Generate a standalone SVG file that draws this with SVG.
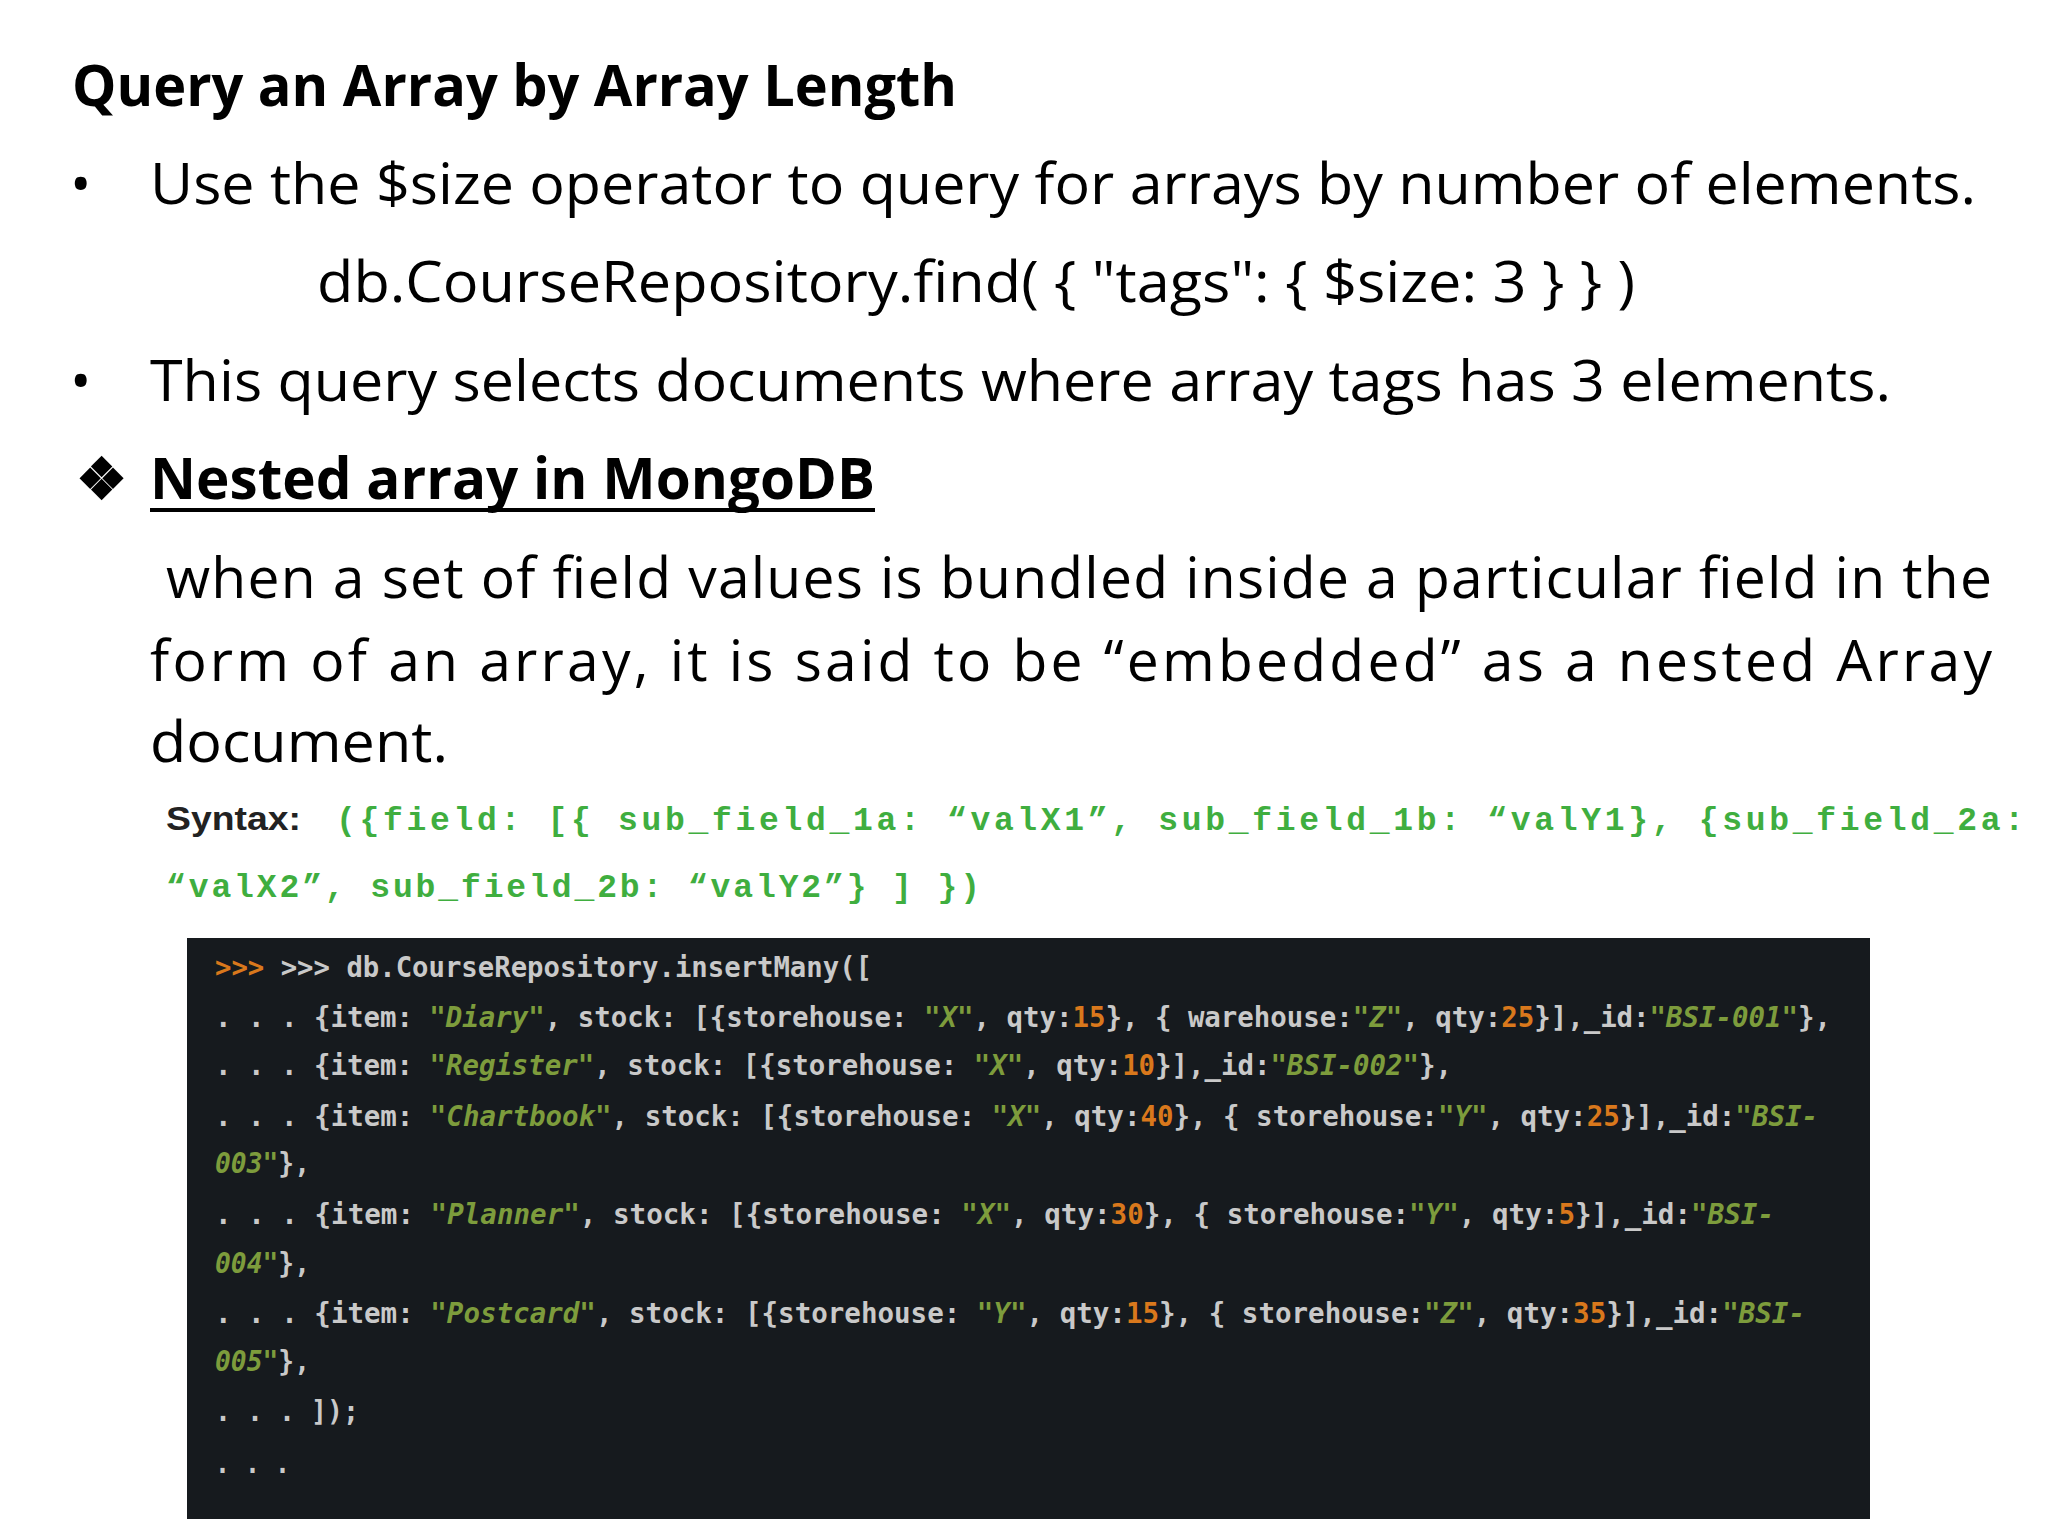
<svg xmlns="http://www.w3.org/2000/svg" width="2048" height="1536" viewBox="0 0 2048 1536">
<style>
.t{font-family:"Open Sans","Noto Sans",sans-serif;font-size:57px;fill:#000}
.b{font-weight:bold}
.syn{font-family:"Liberation Mono",monospace;font-size:33px;fill:#3fae3f;font-weight:bold}
.c{font-family:"DejaVu Sans Mono","Liberation Mono",monospace;font-size:28px;fill:#c9c9c9;font-weight:bold}
.s{fill:#7d9c3c;font-style:italic}
.n{fill:#d9781c}
</style>
<rect width="2048" height="1536" fill="#fff"/>
<g id="text">
<text class="t b" x="72" y="106" textLength="885" lengthAdjust="spacingAndGlyphs">Query an Array by Array Length</text>
<text class="t" x="70" y="204">•</text>
<text class="t" x="150" y="204" textLength="1826" lengthAdjust="spacingAndGlyphs">Use the $size operator to query for arrays by number of elements.</text>
<text class="t" x="317" y="302" textLength="1318" lengthAdjust="spacingAndGlyphs">db.CourseRepository.find( { "tags": { $size: 3 } } )</text>
<text class="t" x="70" y="401">•</text>
<text class="t" x="150" y="401" textLength="1741" lengthAdjust="spacingAndGlyphs">This query selects documents where array tags has 3 elements.</text>
<text class="t b" x="76" y="499" font-size="46" font-family="DejaVu Sans,sans-serif">❖</text>
<text class="t b" x="150" y="499" textLength="725" lengthAdjust="spacingAndGlyphs">Nested array in MongoDB</text>
<rect x="150" y="508" width="725" height="4" fill="#000"/>
<text class="t" x="166" y="598" textLength="1826" lengthAdjust="spacing">when a set of field values is bundled inside a particular field in the</text>
<text class="t" x="150" y="681" textLength="1842" lengthAdjust="spacing">form of an array, it is said to be “embedded” as a nested Array</text>
<text class="t" x="150" y="762" textLength="298" lengthAdjust="spacingAndGlyphs">document.</text>
<text x="166" y="830" font-family="Liberation Sans,sans-serif" font-size="34" font-weight="bold" fill="#222" textLength="135" lengthAdjust="spacingAndGlyphs">Syntax:</text>
<text class="syn" x="336" y="830" textLength="1688" lengthAdjust="spacing">({field:  [{  sub_field_1a:  “valX1”,  sub_field_1b:  “valY1},  {sub_field_2a:</text>
<text class="syn" x="166" y="897" textLength="814" lengthAdjust="spacing">“valX2”,  sub_field_2b:  “valY2”}  ]  })</text>
</g>
<g id="terminal">
<rect x="187" y="938" width="1683" height="581" fill="#161a1e"/>
<text class="c" x="215" y="977" textLength="657" lengthAdjust="spacingAndGlyphs"><tspan class="n">&gt;&gt;&gt;</tspan> &gt;&gt;&gt; db.CourseRepository.insertMany([</text>
<text class="c" x="215" y="1027" textLength="1616" lengthAdjust="spacingAndGlyphs">. . . {item: <tspan class="s">"Diary"</tspan>, stock: [{storehouse: <tspan class="s">"X"</tspan>, qty:<tspan class="n">15</tspan>}, { warehouse:<tspan class="s">"Z"</tspan>, qty:<tspan class="n">25</tspan>}],_id:<tspan class="s">"BSI-001"</tspan>},</text>
<text class="c" x="215" y="1075" textLength="1237" lengthAdjust="spacingAndGlyphs">. . . {item: <tspan class="s">"Register"</tspan>, stock: [{storehouse: <tspan class="s">"X"</tspan>, qty:<tspan class="n">10</tspan>}],_id:<tspan class="s">"BSI-002"</tspan>},</text>
<text class="c" x="215" y="1126" textLength="1603" lengthAdjust="spacingAndGlyphs">. . . {item: <tspan class="s">"Chartbook"</tspan>, stock: [{storehouse: <tspan class="s">"X"</tspan>, qty:<tspan class="n">40</tspan>}, { storehouse:<tspan class="s">"Y"</tspan>, qty:<tspan class="n">25</tspan>}],_id:<tspan class="s">"BSI-</tspan></text>
<text class="c" x="215" y="1173" textLength="95" lengthAdjust="spacingAndGlyphs"><tspan class="s">003"</tspan>},</text>
<text class="c" x="215" y="1224" textLength="1559" lengthAdjust="spacingAndGlyphs">. . . {item: <tspan class="s">"Planner"</tspan>, stock: [{storehouse: <tspan class="s">"X"</tspan>, qty:<tspan class="n">30</tspan>}, { storehouse:<tspan class="s">"Y"</tspan>, qty:<tspan class="n">5</tspan>}],_id:<tspan class="s">"BSI-</tspan></text>
<text class="c" x="215" y="1273" textLength="95" lengthAdjust="spacingAndGlyphs"><tspan class="s">004"</tspan>},</text>
<text class="c" x="215" y="1323" textLength="1590" lengthAdjust="spacingAndGlyphs">. . . {item: <tspan class="s">"Postcard"</tspan>, stock: [{storehouse: <tspan class="s">"Y"</tspan>, qty:<tspan class="n">15</tspan>}, { storehouse:<tspan class="s">"Z"</tspan>, qty:<tspan class="n">35</tspan>}],_id:<tspan class="s">"BSI-</tspan></text>
<text class="c" x="215" y="1371" textLength="95" lengthAdjust="spacingAndGlyphs"><tspan class="s">005"</tspan>},</text>
<text class="c" x="215" y="1421" textLength="144" lengthAdjust="spacingAndGlyphs">. . . ]);</text>
<text class="c" x="215" y="1473" textLength="75" lengthAdjust="spacingAndGlyphs">. . .</text>
</g>
</svg>
